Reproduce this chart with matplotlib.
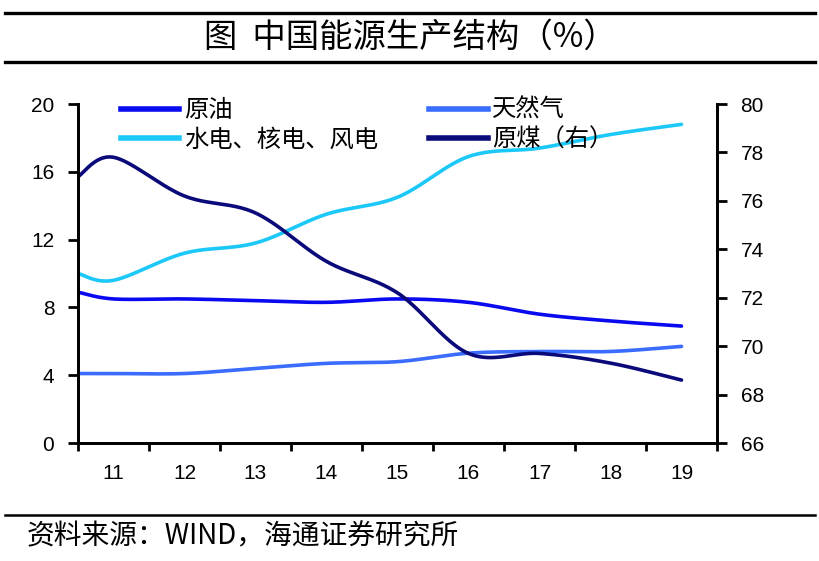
import numpy as np
import matplotlib.pyplot as plt
from matplotlib.lines import Line2D

plt.rcParams['font.family'] = ['Liberation Sans', 'Noto Sans CJK SC', 'DejaVu Sans']

# 数据
years = [10.5, 11, 12, 13, 14, 15, 16, 17, 18, 19]
year_labels = ['11', '12', '13', '14', '15', '16', '17', '18', '19']
crude_oil = [8.9, 8.5, 8.5, 8.4, 8.3, 8.5, 8.3, 7.6, 7.2, 6.9]
natural_gas = [4.1, 4.1, 4.1, 4.4, 4.7, 4.8, 5.3, 5.4, 5.4, 5.7]
hydro_nuclear_wind = [10.0, 9.6, 11.2, 11.8, 13.5, 14.5, 16.9, 17.4, 18.2, 18.8]
coal = [77.0, 77.8, 76.2, 75.5, 73.5, 72.2, 69.7, 69.7, 69.3, 68.6]

left_ticks = [0, 4, 8, 12, 16, 20]
right_ticks = [66, 68, 70, 72, 74, 76, 78, 80]


def smooth(x, y, n=40):
    # Excel 风格的平滑曲线（贝塞尔）
    p = np.column_stack([x, y]).astype(float)
    pe = np.vstack([p[0], p, p[-1]])
    t = np.linspace(0, 1, n)[:, None]
    segs = []
    for i in range(len(p) - 1):
        p0, p1, p2, p3 = pe[i], pe[i + 1], pe[i + 2], pe[i + 3]
        c1 = p1 + (p2 - p0) / 6
        c2 = p2 - (p3 - p1) / 6
        segs.append((1 - t) ** 3 * p1 + 3 * (1 - t) ** 2 * t * c1
                    + 3 * (1 - t) * t ** 2 * c2 + t ** 3 * p2)
    s = np.vstack(segs)
    return s[:, 0], s[:, 1]


x = np.array(years) - 11

fig = plt.figure(figsize=(8.2, 5.61), dpi=100)
ax = fig.add_axes([0.0951, 0.2103, 0.7793, 0.6043])
ax2 = ax.twinx()

c_oil = '#0A0AF0'
c_gas = '#3A6CFF'
c_hydro = '#1CC8F8'
c_coal = '#0A0A7A'
lw = 2.6

ax.plot(*smooth(x, crude_oil), color=c_oil, lw=lw, solid_capstyle='round')
ax.plot(*smooth(x, natural_gas), color=c_gas, lw=lw, solid_capstyle='round')
ax.plot(*smooth(x, hydro_nuclear_wind), color=c_hydro, lw=lw, solid_capstyle='round')
ax2.plot(*smooth(x, coal), color=c_coal, lw=lw, solid_capstyle='round')

ax.set_xlim(-0.5, len(year_labels) - 0.5)
ax.set_ylim(0, 20)
ax2.set_ylim(66, 80)
ax.set_yticks(left_ticks)
ax2.set_yticks(right_ticks)

ax.set_xticks(np.arange(-0.5, len(year_labels), 1))
ax.set_xticklabels([])
ax.set_xticks(np.arange(len(year_labels)), minor=True)
ax.set_xticklabels(year_labels, minor=True)
ax.tick_params(axis='x', which='major', length=6, width=2, direction='out')
ax.tick_params(axis='x', which='minor', length=0, pad=15, labelsize=15)
ax.tick_params(axis='y', length=7, width=2, direction='out', labelsize=15, pad=10)
ax2.tick_params(axis='y', length=7, width=2, direction='out', labelsize=15, pad=10)

for a in (ax, ax2):
    a.spines['top'].set_visible(False)
    for s in ('left', 'right', 'bottom'):
        a.spines[s].set_linewidth(2)

handles = [
    Line2D([], [], color=c_oil, lw=4),
    Line2D([], [], color=c_hydro, lw=4),
    Line2D([], [], color=c_gas, lw=4),
    Line2D([], [], color=c_coal, lw=4),
]
labels = ['原油', '水电、核电、风电', '天然气', '原煤（右）']
leg = ax.legend(handles, labels, ncol=2, loc='upper left',
                bbox_to_anchor=(0.033, 1.085), frameon=False,
                fontsize=17.5, handlelength=2.4, handletextpad=0.2,
                columnspacing=2.1, labelspacing=0.15)
for t in leg.get_texts():
    t.set_family(['Noto Sans CJK SC', 'DejaVu Sans'])

# 标题与横线
fig.add_artist(Line2D([0.006, 0.994], [0.977, 0.977], color='black', lw=2.4))
fig.add_artist(Line2D([0.006, 0.994], [0.889, 0.889], color='black', lw=2.4))
fig.add_artist(Line2D([0.006, 0.994], [0.082, 0.082], color='black', lw=1.8))
fig.text(0.5, 0.933, '图  中国能源生产结构（%）', ha='center', va='center',
         fontsize=24, fontweight='normal',
         family=['Noto Sans CJK SC', 'DejaVu Sans'])
fig.text(0.033, 0.043, '资料来源：WIND，海通证券研究所', ha='left', va='center',
         fontsize=20, family=['Noto Sans CJK SC', 'DejaVu Sans'])

fig.savefig('out.png', dpi=100)
